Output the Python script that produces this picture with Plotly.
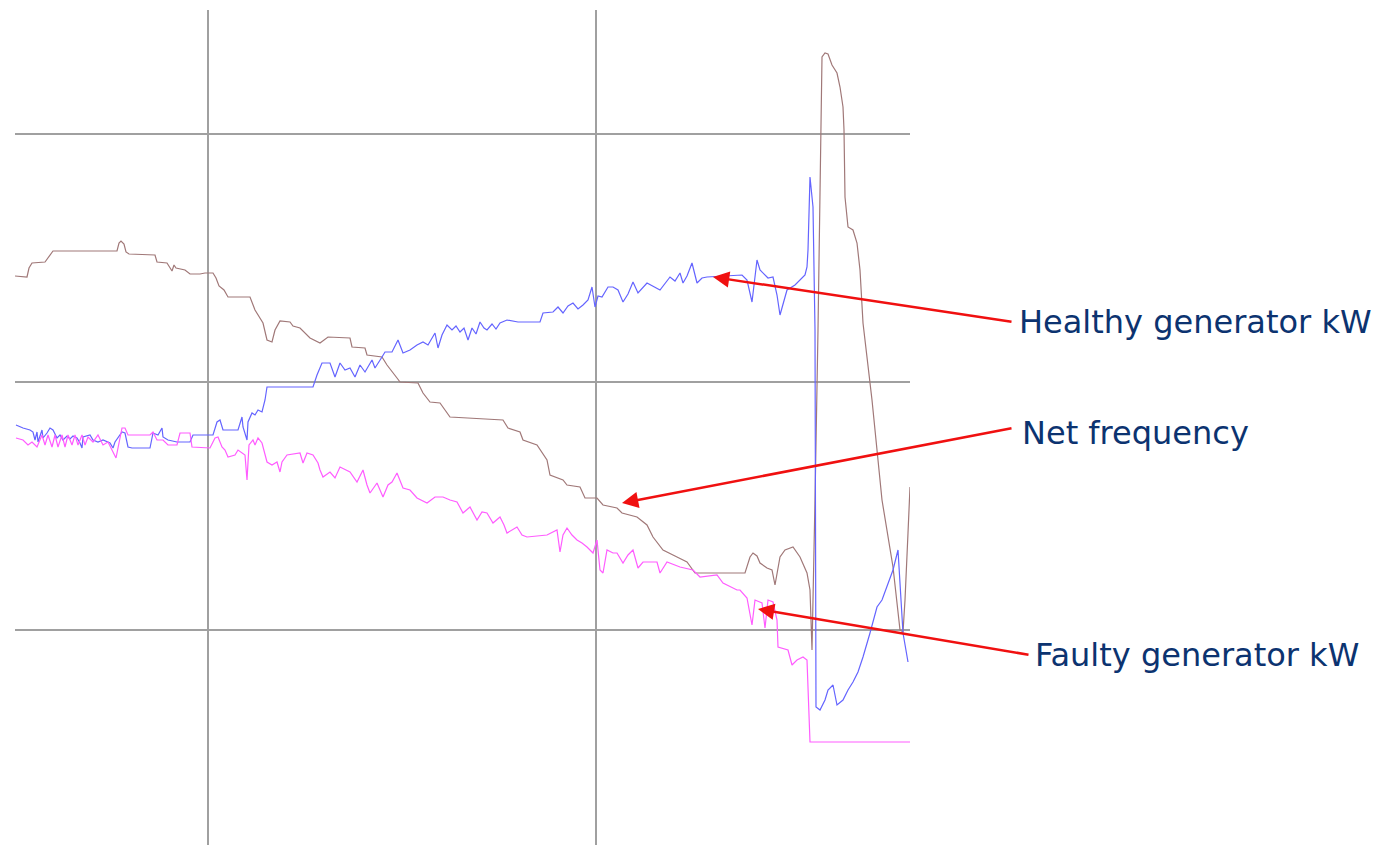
import plotly.graph_objects as go

# Net frequency (brown)
freq_t = [15,27,29,32,45,48,53,117,119,121,124,126,129,155,157,167,169,172,174,176,185,190,200,205,213,216,219,224,228,250,255,263,267,272,275,280,290,293,300,310,320,328,350,352,365,367,382,387,397,400,418,423,430,440,450,467,503,508,520,523,537,547,550,563,567,580,585,597,603,617,622,637,647,653,663,677,687,695,745,750,753,757,760,767,772,775,780,785,793,800,807,810,812,815,818,822,825,828,832,837,840,843,844,845,848,853,857,860,863,872,882,893,900,903,905,908,910]
freq_v = [276,277,268,263,262,258,251,251,243,241,244,252,254,255,262,263,266,271,265,268,270,274,274,273,273,278,286,290,297,297,310,323,340,342,330,321,322,326,328,338,343,337,338,347,348,355,357,365,378,382,383,393,402,403,417,418,420,428,432,440,445,460,475,480,485,487,498,498,505,508,513,517,525,537,550,557,562,573,573,557,553,556,563,568,570,585,557,550,547,557,573,590,650,500,330,57,53,54,65,73,87,107,130,197,227,230,243,270,323,400,500,567,630,632,600,533,487]

# Healthy generator kW (blue)
healthy_t = [16,23,30,33,35,37,38,42,43,47,50,53,57,60,63,67,70,73,77,80,82,83,90,93,98,103,110,113,115,118,122,125,128,132,150,153,158,162,163,168,177,190,193,213,217,220,223,238,242,243,247,248,252,255,258,262,265,267,313,317,322,330,335,340,345,350,355,360,365,372,375,382,385,392,398,403,410,417,423,428,432,435,438,442,447,452,456,460,464,468,472,476,480,484,487,492,496,500,507,518,540,543,553,558,563,568,573,578,583,588,592,595,598,602,608,613,618,623,628,633,638,643,647,660,665,670,675,680,683,687,692,697,702,707,742,747,752,757,760,763,768,773,777,780,784,787,795,800,805,807,808,810,813,815,816,820,825,828,833,837,843,848,853,858,863,870,877,882,887,893,898,903,908]
healthy_v = [425,428,430,432,440,432,442,430,438,433,428,430,438,435,440,436,439,436,438,443,448,437,435,440,442,440,443,448,442,438,432,433,447,448,448,433,435,428,437,440,442,442,435,435,422,420,430,430,417,427,440,422,413,415,410,412,400,387,387,375,363,363,377,363,370,368,377,365,372,360,368,357,352,352,340,353,350,345,342,345,338,333,348,335,325,330,326,332,328,340,328,334,322,328,330,324,329,323,320,322,322,313,312,307,313,306,303,309,305,300,287,307,296,297,287,287,290,302,294,282,293,287,283,290,283,277,281,273,283,276,263,283,278,277,275,280,302,260,270,273,278,277,295,315,300,290,285,280,275,267,250,177,207,330,707,710,700,690,685,705,700,690,682,672,657,633,607,600,587,570,550,633,662]

# Faulty generator kW (magenta)
faulty_t = [16,23,28,32,37,42,45,48,52,55,58,62,65,68,72,75,78,82,85,88,93,98,103,108,113,116,118,122,125,128,150,153,157,163,168,177,180,190,192,210,215,218,222,225,228,235,238,242,245,247,249,253,255,258,262,267,272,277,280,282,287,300,303,307,313,318,320,323,330,335,340,350,357,363,367,370,377,383,388,392,397,403,410,417,427,435,443,450,457,463,470,477,482,487,493,500,504,507,517,522,527,547,557,560,563,567,572,577,582,587,593,597,600,603,607,613,617,623,628,633,638,643,657,660,667,680,693,700,717,723,732,737,740,747,752,755,762,765,768,773,777,778,788,792,797,803,807,810,910]
faulty_v = [438,440,445,442,447,435,445,435,447,435,447,435,447,435,445,435,445,435,445,437,442,435,445,442,452,458,448,428,428,435,435,432,440,440,445,445,433,433,447,448,438,437,447,450,457,455,450,453,455,480,445,440,445,438,443,462,465,462,472,462,455,453,463,453,455,463,470,477,472,478,467,472,482,470,485,493,483,497,485,482,473,488,490,498,503,497,497,500,502,513,507,520,512,513,523,517,525,533,527,535,537,535,530,552,535,528,535,540,543,547,553,540,570,573,550,553,553,563,555,550,568,562,562,573,562,567,570,577,575,583,587,590,590,598,625,600,603,628,600,602,620,647,650,665,660,657,660,742,742]

# Gridline positions (axis units)
x_grid = [208, 596]
y_grid = [134, 382, 630]

labels = ["Healthy generator kW", "Net frequency", "Faulty generator kW"]
tips_t = [713, 622, 758]
tips_v = [277, 503, 609]
tails_t = [1013, 1013, 1030]
tails_v = [322, 428, 655]
text_px = [1017, 1020, 1033]
text_py = [322, 433, 655]

X0, X1 = 15, 910
Y0, Y1 = 845, 10

fig = go.Figure()
fig.add_trace(go.Scatter(x=freq_t, y=freq_v, mode="lines", name="Net frequency",
                         line=dict(color="#a07878", width=1.2)))
fig.add_trace(go.Scatter(x=healthy_t, y=healthy_v, mode="lines", name="Healthy generator kW",
                         line=dict(color="#6464ff", width=1.2)))
fig.add_trace(go.Scatter(x=faulty_t, y=faulty_v, mode="lines", name="Faulty generator kW",
                         line=dict(color="#ff5cff", width=1.2)))

for lab, xt, yt, xa, ya, xl, yl in zip(labels, tips_t, tips_v, tails_t, tails_v, text_px, text_py):
    fig.add_annotation(x=xt, y=yt, ax=xa, ay=ya, axref="x", ayref="y", xref="x", yref="y",
                       text="", showarrow=True, arrowhead=2, arrowsize=1.3,
                       arrowwidth=2.5, arrowcolor="#f01010", standoff=0, startstandoff=0)
    fig.add_annotation(x=(xl - X0) / (X1 - X0), y=(Y0 - yl) / (Y0 - Y1),
                       xref="paper", yref="paper", text=lab, showarrow=False,
                       xanchor="left", yanchor="middle",
                       font=dict(family="DejaVu Sans", size=32, color="#0c3370"))

fig.update_layout(
    width=1384, height=845,
    margin=dict(l=15, r=474, t=10, b=0),
    paper_bgcolor="white", plot_bgcolor="white",
    showlegend=False,
    xaxis=dict(range=[X0, X1], tickmode="array", tickvals=x_grid, showticklabels=False,
               showgrid=True, gridcolor="#a0a0a0", gridwidth=2, zeroline=False,
               showline=False, ticks=""),
    yaxis=dict(range=[Y0, Y1], tickmode="array", tickvals=y_grid, showticklabels=False,
               showgrid=True, gridcolor="#a0a0a0", gridwidth=2, zeroline=False,
               showline=False, ticks=""),
)

fig.write_html("out.html", config={"displayModeBar": False},
               post_script="document.body.style.margin='0';document.body.style.overflow='hidden';")
